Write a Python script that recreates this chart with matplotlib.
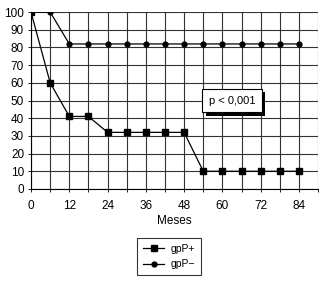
import matplotlib.pyplot as plt
import matplotlib.patheffects as pe
import numpy as np

plt.rcParams['font.family'] = ['Liberation Sans', 'DejaVu Sans']

# months and survival (%)
meses = [0, 6, 12, 18, 24, 30, 36, 42, 48, 54, 60, 66, 72, 78, 84]
gpp_pos = [100, 60, 41, 41, 32, 32, 32, 32, 32, 10, 10, 10, 10, 10, 10]
gpp_neg = [100, 100, 82, 82, 82, 82, 82, 82, 82, 82, 82, 82, 82, 82, 82]

fig = plt.figure(figsize=(3.2, 2.82), dpi=100)
ax = fig.add_axes([0.097, 0.33, 0.897, 0.627])

ax.plot(meses, gpp_pos, color='black', lw=0.9, marker='s', markersize=5,
        label='gpP+', zorder=3)
ax.plot(meses, gpp_neg, color='black', lw=0.9, marker='o', markersize=3.5,
        label='gpP\u2212', zorder=3)

ax.set_xlim(0, 90)
ax.set_ylim(0, 100)
ax.set_xticks(np.arange(0, 85, 12))
ax.set_xticks(np.arange(0, 91, 6), minor=True)
ax.set_yticks(np.arange(0, 101, 10))
ax.grid(True, which='both', color='#333333', lw=0.8)
ax.tick_params(labelsize=8.5, length=2, width=0.6, pad=6)
ax.tick_params(which='minor', length=2, width=0.6)
ax.tick_params(axis='y', pad=3)
for s in ['top', 'right']:
    ax.spines[s].set_visible(False)
for s in ['left', 'bottom']:
    ax.spines[s].set_linewidth(0.8)

ax.set_xlabel('Meses', fontsize=8.5, labelpad=2)

# p-value box with drop shadow
t = ax.text(63, 50, 'p < 0,001', fontsize=8, ha='center', va='center', zorder=5,
            bbox=dict(boxstyle='square,pad=0.6', fc='white', ec='black', lw=0.8))
t.get_bbox_patch().set_path_effects([
    pe.SimplePatchShadow(offset=(2.5, -2.5), shadow_rgbFace='black', alpha=1),
    pe.Normal()])

leg = fig.legend(loc='center', bbox_to_anchor=(0.528, 0.09), fontsize=7.5,
                 frameon=True, fancybox=False, edgecolor='black',
                 handlelength=2, handletextpad=0.6, borderpad=0.6,
                 labelspacing=0.5)
leg.get_frame().set_linewidth(0.8)

fig.savefig('out.png', dpi=100)
